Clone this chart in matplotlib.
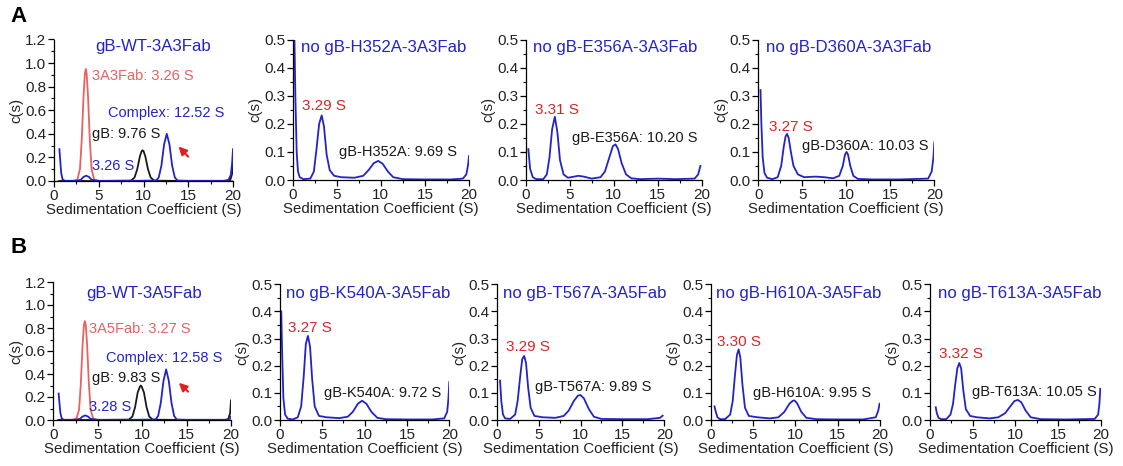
import numpy as np
import matplotlib.pyplot as plt
from matplotlib.ticker import MultipleLocator

plt.rcParams['font.family'] = ['Liberation Sans', 'DejaVu Sans']

BLUE = '#2323c8'
RED_LINE = '#e8625f'
RED_TXT = '#d7262b'
BLACK = '#1a1a1a'

# ---- A1: gB-WT-3A3Fab ----
a1_fab_s = [0.5, 2.0, 2.6, 2.9, 3.1, 3.3, 3.45, 3.55, 3.65, 3.8, 4.0, 4.2, 4.5, 5.0, 8, 12, 16, 19.5, 20]
a1_fab_c = [0, 0, 0.01, 0.10, 0.35, 0.72, 0.91, 0.95, 0.91, 0.72, 0.35, 0.10, 0.01, 0, 0, 0, 0, 0, 0]
a1_gb_s = [0.6, 5, 8.6, 9.0, 9.3, 9.6, 9.8, 9.9, 10.0, 10.2, 10.5, 10.8, 11.2, 15, 19.4, 19.7, 19.9, 20]
a1_gb_c = [0, 0, 0.003, 0.03, 0.10, 0.21, 0.255, 0.26, 0.255, 0.21, 0.10, 0.03, 0.003, 0, 0, 0.01, 0.06, 0.15]
a1_cx_s = [0.6, 0.7, 0.8, 0.95, 1.2, 2.5, 3.0, 3.3, 3.6, 3.9, 4.2, 5, 9, 11.4, 11.7, 12.0, 12.3, 12.6,
           12.9, 13.2, 13.5, 13.8, 15, 19, 19.5, 19.75, 19.9, 20.0]
a1_cx_c = [0.27, 0.17, 0.07, 0.015, 0.002, 0.002, 0.01, 0.035, 0.045, 0.035, 0.01, 0.002, 0.002, 0.004,
           0.03, 0.13, 0.31, 0.40, 0.31, 0.13, 0.03, 0.004, 0.002, 0.002, 0.01, 0.05, 0.15, 0.27]

# ---- B1: gB-WT-3A5Fab ----
b1_fab_s = [0.5, 2.0, 2.6, 2.9, 3.1, 3.3, 3.45, 3.55, 3.65, 3.8, 4.0, 4.2, 4.5, 5.0, 8, 12, 16, 19.5, 20]
b1_fab_c = [0, 0, 0.01, 0.09, 0.32, 0.66, 0.83, 0.86, 0.83, 0.66, 0.32, 0.09, 0.01, 0, 0, 0, 0, 0, 0]
b1_gb_s = [0.6, 5, 8.5, 8.9, 9.2, 9.5, 9.75, 9.85, 9.95, 10.2, 10.5, 10.8, 11.2, 15, 19.4, 19.7, 19.9, 20]
b1_gb_c = [0, 0, 0.003, 0.03, 0.11, 0.24, 0.29, 0.30, 0.29, 0.24, 0.11, 0.03, 0.003, 0, 0, 0.01, 0.06, 0.17]
b1_cx_s = [0.6, 0.7, 0.8, 0.95, 1.2, 2.5, 3.0, 3.3, 3.6, 3.9, 4.2, 5, 9, 11.5, 11.8, 12.1, 12.4, 12.7,
           13.0, 13.3, 13.6, 13.9, 15, 19, 19.5, 19.75, 19.9, 20.0]
b1_cx_c = [0.23, 0.14, 0.06, 0.012, 0.002, 0.002, 0.01, 0.03, 0.04, 0.03, 0.01, 0.002, 0.002, 0.004,
           0.035, 0.15, 0.34, 0.44, 0.34, 0.15, 0.035, 0.004, 0.002, 0.002, 0.003, 0.008, 0.015, 0.03]

# ---- mutant panels (single blue trace each) ----
h352_s = [0.2, 0.3, 0.45, 0.6, 0.8, 1.2, 2.0, 2.4, 2.7, 3.0, 3.29, 3.55, 3.85, 4.2, 4.7, 5.5, 7.0, 8.0,
          8.6, 9.2, 9.7, 10.2, 10.8, 11.4, 12.5, 15, 18, 19.3, 19.7, 19.9, 20]
h352_c = [0.5, 0.3, 0.1, 0.03, 0.01, 0.003, 0.005, 0.03, 0.11, 0.20, 0.23, 0.19, 0.09, 0.035, 0.015, 0.01,
          0.008, 0.015, 0.035, 0.06, 0.068, 0.058, 0.03, 0.01, 0.003, 0.002, 0.002, 0.005, 0.02, 0.055, 0.085]
e356_s = [0.3, 0.5, 0.8, 1.2, 2.0, 2.4, 2.7, 3.0, 3.31, 3.6, 3.9, 4.3, 4.8, 5.5, 6.0, 6.6, 7.5, 8.5, 9.0,
          9.5, 9.9, 10.2, 10.5, 10.9, 11.4, 12.0, 13, 15, 17, 19.2, 19.6, 19.85]
e356_c = [0.11, 0.04, 0.01, 0.003, 0.003, 0.02, 0.08, 0.18, 0.225, 0.17, 0.07, 0.02, 0.008, 0.012, 0.015,
          0.012, 0.005, 0.01, 0.03, 0.08, 0.12, 0.127, 0.11, 0.06, 0.02, 0.006, 0.003, 0.005, 0.003, 0.005,
          0.02, 0.05]
d360_s = [0.25, 0.35, 0.5, 0.7, 1.0, 1.6, 2.2, 2.6, 2.9, 3.1, 3.27, 3.45, 3.7, 4.0, 4.5, 5.2, 6.5, 7.5,
          8.5, 9.2, 9.6, 9.85, 10.03, 10.2, 10.45, 10.8, 11.3, 13, 16, 19.3, 19.7, 19.9, 20]
d360_c = [0.32, 0.2, 0.08, 0.025, 0.008, 0.003, 0.01, 0.05, 0.12, 0.155, 0.164, 0.15, 0.1, 0.05, 0.02, 0.01,
          0.012, 0.01, 0.006, 0.015, 0.05, 0.09, 0.10, 0.09, 0.05, 0.015, 0.004, 0.002, 0.002, 0.005, 0.03,
          0.08, 0.134]
k540_s = [0.15, 0.25, 0.4, 0.6, 0.9, 1.5, 2.1, 2.5, 2.8, 3.05, 3.3, 3.55, 3.8, 4.1, 4.6, 5.5, 7.0, 8.0,
          8.6, 9.2, 9.7, 10.2, 10.8, 11.5, 12.5, 15, 18, 19.4, 19.75, 19.9, 20]
k540_c = [0.40, 0.25, 0.08, 0.02, 0.005, 0.002, 0.01, 0.05, 0.16, 0.28, 0.31, 0.27, 0.15, 0.05, 0.015,
          0.01, 0.007, 0.012, 0.03, 0.06, 0.071, 0.06, 0.03, 0.008, 0.003, 0.002, 0.002, 0.006, 0.03,
          0.08, 0.14]
t567_s = [0.4, 0.55, 0.75, 1.0, 1.6, 2.2, 2.5, 2.8, 3.05, 3.28, 3.5, 3.75, 4.05, 4.5, 5.5, 7.0, 8.0, 8.6,
          9.2, 9.7, 10.0, 10.4, 11.0, 11.6, 12.5, 15, 18, 19.5, 19.8]
t567_c = [0.145, 0.07, 0.02, 0.006, 0.004, 0.02, 0.07, 0.16, 0.225, 0.236, 0.21, 0.12, 0.045, 0.015, 0.01,
          0.008, 0.015, 0.035, 0.07, 0.09, 0.092, 0.08, 0.04, 0.012, 0.004, 0.003, 0.003, 0.008, 0.016]
h610_s = [0.45, 0.6, 0.8, 1.1, 1.7, 2.3, 2.6, 2.85, 3.1, 3.3, 3.5, 3.75, 4.05, 4.5, 5.5, 7.0, 8.0, 8.7,
          9.3, 9.7, 9.9, 10.2, 10.7, 11.3, 12.5, 15, 18, 19.5, 19.8, 19.95]
h610_c = [0.05, 0.03, 0.01, 0.003, 0.003, 0.02, 0.07, 0.16, 0.24, 0.26, 0.23, 0.13, 0.045, 0.015, 0.01,
          0.006, 0.01, 0.03, 0.06, 0.071, 0.072, 0.062, 0.03, 0.008, 0.003, 0.002, 0.002, 0.01, 0.035, 0.06]
t613_s = [0.67, 0.8, 1.0, 1.3, 1.9, 2.4, 2.7, 2.95, 3.2, 3.43, 3.65, 3.9, 4.2, 4.7, 5.5, 7.0, 8.0, 8.8,
          9.4, 9.9, 10.3, 10.7, 11.2, 11.8, 13, 16, 19.3, 19.7, 19.85, 19.95]
t613_c = [0.047, 0.025, 0.008, 0.003, 0.003, 0.02, 0.06, 0.13, 0.19, 0.21, 0.19, 0.11, 0.04, 0.015, 0.01,
          0.006, 0.01, 0.025, 0.05, 0.07, 0.074, 0.065, 0.035, 0.01, 0.003, 0.002, 0.004, 0.02, 0.06, 0.115]

W, H = 1123, 466
fig = plt.figure(figsize=(W / 100, H / 100), dpi=100)

FS_TICK = 11
FS_AXIS = 10.8
FS_TITLE = 12.1
FS_NOTE = 10.5
FS_RED = 11


def make_ax(x0, x1, ytop, ybot, ymax, ystep):
    ax = fig.add_axes([x0 / W, 1 - ybot / H, (x1 - x0) / W, (ybot - ytop) / H])
    ax.set_xlim(0, 20)
    ax.set_ylim(0, ymax)
    ax.spines['top'].set_visible(False)
    ax.spines['right'].set_visible(False)
    for sp in ('left', 'bottom'):
        ax.spines[sp].set_linewidth(0.9)
    ax.xaxis.set_major_locator(MultipleLocator(5))
    ax.xaxis.set_minor_locator(MultipleLocator(2.5))
    ax.yaxis.set_major_locator(MultipleLocator(ystep))
    ax.yaxis.set_minor_locator(MultipleLocator(ystep / 2))
    ax.yaxis.set_major_formatter(plt.FormatStrFormatter('%.1f'))
    ax.tick_params(which='major', length=4, width=0.9, labelsize=FS_TICK, pad=1.5, labelcolor='#222222')
    ax.tick_params(which='minor', length=2, width=0.8)
    ax.set_xlabel('Sedimentation Coefficient (S)', fontsize=FS_AXIS, labelpad=0.5, color='#222222')
    ax.set_ylabel('c(s)', fontsize=FS_AXIS, labelpad=1, color='#222222')
    return ax


lw = 1.3

# Row A
ax = make_ax(54, 233, 39.5, 181, 1.2, 0.2)
ax.plot(a1_fab_s, a1_fab_c, color=RED_LINE, lw=lw)
ax.plot(a1_gb_s, a1_gb_c, color=BLACK, lw=lw)
ax.plot(a1_cx_s, a1_cx_c, color=BLUE, lw=lw)
ax.text(11.1, 1.14, 'gB-WT-3A3Fab', color=BLUE, fontsize=FS_TITLE, ha='center', va='center')
ax.text(4.2, 0.89, '3A3Fab: 3.26 S', color=RED_LINE, fontsize=FS_NOTE, va='center')
ax.text(6.0, 0.58, 'Complex: 12.52 S', color=BLUE, fontsize=FS_NOTE, va='center')
ax.text(4.3, 0.40, 'gB: 9.76 S', color=BLACK, fontsize=FS_NOTE, va='center')
ax.text(4.3, 0.13, '3.26 S', color=BLUE, fontsize=FS_NOTE, va='center')
ax.annotate('', xy=(13.7, 0.31), xytext=(15.2, 0.19),
            arrowprops=dict(arrowstyle='-|>', color='#e0201c', lw=1.5, mutation_scale=12))

panels_a = [
    (292.7, 469, h352_s, h352_c, 'no gB-H352A-3A3Fab', 0.9, (3.6, 0.265, '3.29 S'), (11.9, 0.10, 'gB-H352A: 9.69 S')),
    (525.7, 701.7, e356_s, e356_c, 'no gB-E356A-3A3Fab', 0.8, (3.55, 0.25, '3.31 S'), (12.4, 0.151, 'gB-E356A: 10.20 S')),
    (758.3, 934.3, d360_s, d360_c, 'no gB-D360A-3A3Fab', 0.9, (3.7, 0.19, '3.27 S'), (12.1, 0.122, 'gB-D360A: 10.03 S')),
]
for x0, x1, s, c, title, tx, red, blk in panels_a:
    ax = make_ax(x0, x1, 39.5, 180, 0.5, 0.1)
    ax.plot(s, c, color=BLUE, lw=lw, clip_on=True)
    ax.text(tx, 0.472, title, color=BLUE, fontsize=FS_TITLE, va='center')
    ax.text(red[0], red[1], red[2], color=RED_TXT, fontsize=FS_RED, ha='center', va='center')
    ax.text(blk[0], blk[1], blk[2], color=BLACK, fontsize=FS_NOTE, ha='center', va='center')

# Row B
ax = make_ax(53.3, 231, 282, 420, 1.2, 0.2)
ax.plot(b1_fab_s, b1_fab_c, color=RED_LINE, lw=lw)
ax.plot(b1_gb_s, b1_gb_c, color=BLACK, lw=lw)
ax.plot(b1_cx_s, b1_cx_c, color=BLUE, lw=lw)
ax.text(10.2, 1.10, 'gB-WT-3A5Fab', color=BLUE, fontsize=FS_TITLE, ha='center', va='center')
ax.text(4.0, 0.79, '3A5Fab: 3.27 S', color=RED_LINE, fontsize=FS_NOTE, va='center')
ax.text(5.9, 0.535, 'Complex: 12.58 S', color=BLUE, fontsize=FS_NOTE, va='center')
ax.text(4.3, 0.367, 'gB: 9.83 S', color=BLACK, fontsize=FS_NOTE, va='center')
ax.text(4.0, 0.115, '3.28 S', color=BLUE, fontsize=FS_NOTE, va='center')
ax.annotate('', xy=(13.9, 0.34), xytext=(15.4, 0.23),
            arrowprops=dict(arrowstyle='-|>', color='#e0201c', lw=1.5, mutation_scale=12))

panels_b = [
    (280, 449.3, k540_s, k540_c, 'no gB-K540A-3A5Fab', 0.7, (3.55, 0.34, '3.27 S'), (12.1, 0.10, 'gB-K540A: 9.72 S')),
    (496.7, 664.3, t567_s, t567_c, 'no gB-T567A-3A5Fab', 0.7, (3.7, 0.268, '3.29 S'), (11.5, 0.123, 'gB-T567A: 9.89 S')),
    (710.7, 880, h610_s, h610_c, 'no gB-H610A-3A5Fab', 0.6, (3.37, 0.289, '3.30 S'), (12.0, 0.10, 'gB-H610A: 9.95 S')),
    (930, 1100.7, t613_s, t613_c, 'no gB-T613A-3A5Fab', 0.97, (3.65, 0.242, '3.32 S'), (12.2, 0.102, 'gB-T613A: 10.05 S')),
]
for x0, x1, s, c, title, tx, red, blk in panels_b:
    ax = make_ax(x0, x1, 284.3, 420, 0.5, 0.1)
    ax.plot(s, c, color=BLUE, lw=lw)
    ax.text(tx, 0.467, title, color=BLUE, fontsize=FS_TITLE, va='center')
    ax.text(red[0], red[1], red[2], color=RED_TXT, fontsize=FS_RED, ha='center', va='center')
    ax.text(blk[0], blk[1], blk[2], color=BLACK, fontsize=FS_NOTE, ha='center', va='center')

fig.text(10 / W, 1 - 16 / H, 'A', fontsize=16, fontweight='bold', va='center')
fig.text(10 / W, 1 - 247 / H, 'B', fontsize=16, fontweight='bold', va='center')

fig.savefig('out.png', dpi=100, facecolor='white')
